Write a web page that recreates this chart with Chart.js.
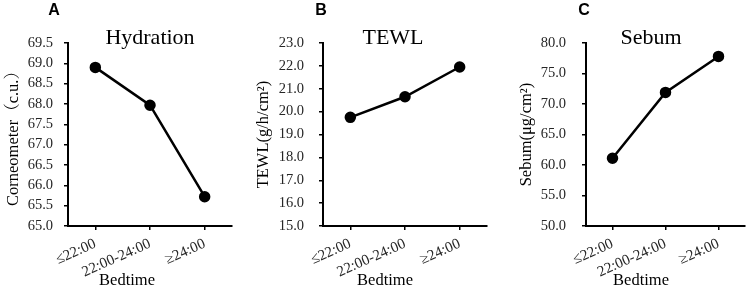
<!DOCTYPE html>
<html><head><meta charset="utf-8">
<script src="https://cdn.jsdelivr.net/npm/chart.js@4.4.1/dist/chart.umd.min.js"></script>
<style>
html,body{margin:0;padding:0;background:#fff;}
#wrap{position:relative;width:752px;height:291px;overflow:hidden;background:#fff;}
.panel{position:absolute;top:0;height:291px;}
canvas{display:block;}
</style></head><body>
<div id="wrap">
  <div class="panel" style="left:0;width:250px"><canvas id="cA" width="250" height="291"></canvas></div>
  <div class="panel" style="left:250px;width:250px"><canvas id="cB" width="250" height="291"></canvas></div>
  <div class="panel" style="left:500px;width:252px"><canvas id="cC" width="252" height="291"></canvas></div>
</div>
<script>
// ---- data ----
const categories = ['≤22:00', '22:00-24:00', '≥24:00'];
const hydrationValues = [68.9, 67.97, 65.72];
const tewlValues = [19.75, 20.65, 21.95];
const sebumValues = [61.1, 71.9, 77.8];
const hydrationTicks = [65.0, 65.5, 66.0, 66.5, 67.0, 67.5, 68.0, 68.5, 69.0, 69.5];
const tewlTicks = [15.0, 16.0, 17.0, 18.0, 19.0, 20.0, 21.0, 22.0, 23.0];
const sebumTicks = [50.0, 55.0, 60.0, 65.0, 70.0, 75.0, 80.0];
const panelLetters = ['A', 'B', 'C'];
const panelTitles = ['Hydration', 'TEWL', 'Sebum'];
const yTitles = ['Corneometer（c.u.）', 'TEWL(g/h/cm²)', 'Sebum(μg/cm²)'];
const xTitle = 'Bedtime';

const SERIF = '"Liberation Serif", "Times New Roman", "Noto Serif CJK SC", "Noto Sans CJK SC", serif';

const panelText = {
  id: 'panelText',
  afterDraw(chart, args, o) {
    const ctx = chart.ctx;
    ctx.save();
    ctx.fillStyle = '#000';
    ctx.textAlign = 'center';
    ctx.textBaseline = 'alphabetic';
    ctx.font = 'bold 16px "Liberation Sans", Arial, sans-serif';
    ctx.fillText(o.letter, o.letterX, 15);
    ctx.font = '22px ' + SERIF;
    ctx.fillText(o.title, o.titleX, 43.5);
    ctx.font = '16.5px ' + SERIF;
    ctx.fillText(o.xTitle, o.xTitleX, 285);
    ctx.restore();
  }
};

function makeChart(id, i, values, ticks, lay) {
  return new Chart(document.getElementById(id), {
    type: 'line',
    data: {
      labels: categories,
      datasets: [{
        data: values,
        borderColor: '#000',
        backgroundColor: '#000',
        borderWidth: 2.5,
        pointRadius: 4.5,
        pointHoverRadius: 4.5,
        pointBackgroundColor: '#000',
        pointBorderColor: '#000',
        tension: 0,
        fill: false
      }]
    },
    options: {
      responsive: false,
      animation: false,
      devicePixelRatio: 1,
      layout: { padding: { top: 43, left: lay.padLeft, right: lay.padRight, bottom: 0 } },
      plugins: {
        legend: { display: false },
        tooltip: { enabled: false },
        title: { display: false },
        panelText: { letter: panelLetters[i], letterX: lay.letterX, title: panelTitles[i], titleX: lay.titleX, xTitle: xTitle, xTitleX: lay.xTitleX }
      },
      scales: {
        x: {
          type: 'category',
          offset: true,
          grid: { display: true, drawOnChartArea: false, drawTicks: true, tickLength: 4, color: '#000', lineWidth: 1.5 },
          border: { display: true, color: '#000', width: 2 },
          ticks: { color: '#262626', font: { family: SERIF, size: 15 }, minRotation: 24, maxRotation: 24, padding: 5, autoSkip: false },
          afterFit: s => { s.height = 65; }
        },
        y: {
          min: ticks[0],
          max: ticks[ticks.length - 1],
          afterBuildTicks: s => { s.ticks = ticks.map(v => ({ value: v })); },
          grid: { display: true, drawOnChartArea: false, drawTicks: true, tickLength: 4, color: '#000', lineWidth: 1.5 },
          border: { display: true, color: '#000', width: 2 },
          ticks: { color: '#262626', font: { family: SERIF, size: 14.5 }, padding: lay.tickPad, autoSkip: false, callback: v => Number(v).toFixed(1) },
          title: { display: true, text: yTitles[i], color: '#000', font: { family: SERIF, size: 16.5 }, padding: { top: 4, bottom: 4 } },
          afterFit: s => { s.width = lay.yWidth; }
        }
      }
    },
    plugins: [panelText]
  });
}

makeChart('cA', 0, hydrationValues, hydrationTicks, { padLeft: 0, padRight: 18, yWidth: 68, tickPad: 11, letterX: 54, titleX: 150, xTitleX: 127 });
makeChart('cB', 1, tewlValues, tewlTicks, { padLeft: 0, padRight: 13, yWidth: 73, tickPad: 15, letterX: 71, titleX: 143, xTitleX: 135 });
makeChart('cC', 2, sebumValues, sebumTicks, { padLeft: 13, padRight: 3, yWidth: 73, tickPad: 16, letterX: 84, titleX: 151, xTitleX: 141 });
</script>
</body></html>
